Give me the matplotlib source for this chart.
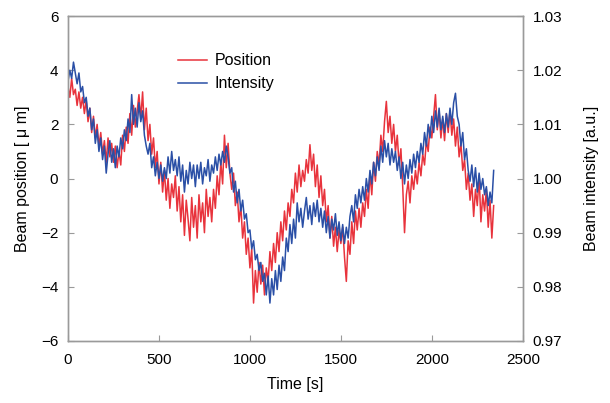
import matplotlib
matplotlib.use("Agg")
import matplotlib.pyplot as plt
import numpy as np

plt.rcParams['font.family'] = ['Liberation Sans', 'DejaVu Sans']

time_step = 10  # s
position = [
    3.4, 3.0, 3.7, 3.1, 3.3, 2.7, 3.2, 2.6, 3.0, 2.4,
    2.9, 2.1, 2.6, 1.7, 2.3, 1.5, 2.0, 1.2, 1.7, 0.9,
    1.4, 0.6, 1.5, 0.8, 1.3, 0.6, 1.2, 0.4, 1.0, 0.5,
    1.6, 1.0, 1.9, 1.3, 2.4, 1.6, 2.7, 1.9, 2.5, 3.1,
    2.2, 3.2, 1.8, 2.6, 1.4, 2.0, 0.9, 1.5, 0.4, 1.0,
    -0.2, 0.6, -0.5, 0.3, -0.8, 0.0, -1.1, -0.2, -0.7, 0.1,
    -1.2, -0.3, -1.6, -0.6, -2.1, -0.8, -1.5, -2.3, -0.7, -1.8,
    -1.0, -2.2, -0.6, -1.6, -0.9, -2.0, -0.4, -1.4, -0.7, -1.6,
    -0.4, -1.1, 0.1, -0.6, 0.6, -0.2, 1.6, 0.4, 1.3, 0.2,
    -0.4, 0.2, -1.0, -0.5, -1.6, -1.0, -2.2, -1.6, -2.8, -2.2,
    -3.3, -2.6, -4.6, -3.4, -4.2, -3.1, -3.9, -3.2, -4.3, -3.3,
    -3.8, -2.7, -3.4, -2.4, -3.1, -2.0, -2.7, -1.6, -2.3, -1.2,
    -1.9, -0.9, -1.4, -0.4, -0.9, 0.2, -0.5, 0.5, -0.3, 0.3,
    -0.1, 0.7, 0.2, 1.25, 0.3, 0.9, -0.3, 0.5, -0.7, 0.1,
    -1.0, -0.4, -1.6, -1.0, -2.2, -1.4, -2.5, -1.8, -2.7, -1.9,
    -2.4, -1.8, -2.9, -3.8, -2.3, -2.8, -1.6, -2.4, -1.2, -1.9,
    -1.1, -1.8, -0.9, -1.4, -0.4, -1.1, 0.2, -0.6, 0.6, -0.1,
    1.0, 0.5, 1.6, 1.0, 2.1, 2.85, 1.7, 2.3, 1.3, 2.0,
    1.0, 1.6, 0.5, 1.1, -0.3, -2.0, -0.6, -0.1, -0.9, 0.1,
    -0.4, 0.3, -0.2, 0.6, 0.1, 0.9, 0.5, 1.4, 1.0, 1.9,
    1.5, 2.3, 3.1, 1.8, 2.5, 1.5, 2.2, 1.4, 2.4, 1.7,
    2.5, 1.6, 2.2, 1.2, 1.9, 0.8, 1.3, 0.3, 0.7, -0.4,
    0.2, -0.8, -0.2, -1.4, -0.4, -1.0, 0.1, -1.6, -0.6, -1.2,
    -0.4, -1.8, -0.8, -2.2, -1.0,
]
intensity = [
    1.018, 1.020, 1.0185, 1.0215, 1.0195, 1.0175, 1.0195, 1.016, 1.017, 1.014,
    1.015, 1.0115, 1.013, 1.009, 1.011, 1.0065, 1.009, 1.005, 1.0075, 1.0035,
    1.006, 1.001, 1.0045, 1.007, 1.003, 1.0055, 1.002, 1.006, 1.004, 1.0075,
    1.0055, 1.009, 1.007, 1.011, 1.0085, 1.0155, 1.010, 1.013, 1.0095, 1.014,
    1.0105, 1.0125, 1.008, 1.006, 1.0045, 1.0065, 1.002, 1.004, 1.0005, 1.003,
    1.000, 1.0025, 0.9995, 1.002, 1.000, 1.004, 1.001, 1.005, 1.0015, 1.0035,
    1.0005, 1.004, 0.9995, 1.0025, 0.9975, 1.0015, 0.999, 1.003, 1.000, 1.0025,
    0.9985, 1.0025, 1.000, 1.003, 0.999, 1.002, 1.0005, 1.0035, 0.9995, 1.0025,
    1.001, 1.004, 1.0015, 1.0045, 1.0025, 1.005, 1.003, 1.006, 1.004, 1.001,
    1.002, 0.9975, 0.9995, 0.9955, 0.998, 0.994, 0.996, 0.9925, 0.9935, 0.990,
    0.9905, 0.987, 0.9885, 0.985, 0.986, 0.983, 0.9845, 0.981, 0.9825, 0.9785,
    0.982, 0.977, 0.9815, 0.9785, 0.983, 0.9795, 0.984, 0.981, 0.9855, 0.983,
    0.989, 0.9865, 0.9915, 0.988, 0.9925, 0.989, 0.9955, 0.992, 0.9945, 0.991,
    0.994, 0.9965, 0.9925, 0.995, 0.9915, 0.9955, 0.993, 0.996, 0.992, 0.9945,
    0.991, 0.994, 0.990, 0.993, 0.989, 0.9925, 0.9905, 0.9935, 0.9895, 0.992,
    0.9885, 0.9915, 0.988, 0.991, 0.989, 0.993, 0.995, 0.992, 0.997, 0.9945,
    0.998, 0.9955, 0.9985, 0.996, 1.000, 0.9975, 1.0015, 0.999, 1.003, 1.0005,
    1.004, 1.0015, 1.006, 1.003, 1.007, 1.004, 1.0065, 1.0025, 1.0055, 1.003,
    1.005, 1.0015, 1.004, 1.000, 1.003, 0.999, 1.0025, 1.000, 1.0035, 1.001,
    1.0045, 1.002, 1.005, 1.003, 1.0065, 1.0045, 1.0085, 1.006, 1.010, 1.0075,
    1.0115, 1.0085, 1.0125, 1.0095, 1.013, 1.009, 1.0115, 1.0085, 1.012, 1.0095,
    1.013, 1.010, 1.014, 1.01575, 1.0115, 1.010, 1.006, 1.0085, 1.0035, 1.0055,
    1.0015, 0.9995, 1.0025, 0.9985, 1.002, 0.9975, 1.001, 0.998, 1.000, 0.997,
    0.9985, 0.995, 0.9975, 0.9955, 1.0015,
]
time = [i * time_step for i in range(len(position))]

x_ticks = [0, 500, 1000, 1500, 2000, 2500]
y_ticks = [-6, -4, -2, 0, 2, 4, 6]
y2_ticks = [0.97, 0.98, 0.99, 1.00, 1.01, 1.02, 1.03]

RED = '#E8333C'
BLUE = '#2A4FA6'
GRAY = '#9a9a9a'
FS = 11

fig = plt.figure(figsize=(6.10, 4.03), dpi=100)
ax = fig.add_axes([0.1115, 0.154, 0.7455, 0.806])
ax2 = ax.twinx()

l1, = ax.plot(time, position, color=RED, lw=1.1, label='Position')
l2, = ax2.plot(time, intensity, color=BLUE, lw=1.1, label='Intensity')

ax.set_xlim(0, 2500)
ax.set_ylim(-6, 6)
ax2.set_ylim(0.97, 1.03)
ax.set_xticks(x_ticks)
ax.set_yticks(y_ticks)
ax.set_yticklabels([str(v) if v >= 0 else '\u2212' + str(-v) for v in y_ticks])
ax2.set_yticks(y2_ticks)
ax2.set_yticklabels(['%.2f' % v for v in y2_ticks])

for a in (ax, ax2):
    for s in a.spines.values():
        s.set_color(GRAY)
        s.set_linewidth(1.0)
    a.tick_params(direction='in', length=4, color=GRAY, labelsize=FS, pad=7)
ax.tick_params(axis='x', pad=9)

ax.set_xlabel('Time [s]', fontsize=FS + 0.5, labelpad=7)
ax.set_ylabel('Beam position [ \u03bc m]', fontsize=FS + 0.5, labelpad=8)
ax2.set_ylabel('Beam intensity [a.u.]', fontsize=FS + 0.5, labelpad=16)

leg = ax.legend([l1, l2], ['Position', 'Intensity'], loc='upper left',
                bbox_to_anchor=(0.21, 0.93), frameon=False, fontsize=FS + 0.5,
                handlelength=1.8, handletextpad=0.5, labelspacing=0.5)

fig.savefig('out.png', dpi=100)
